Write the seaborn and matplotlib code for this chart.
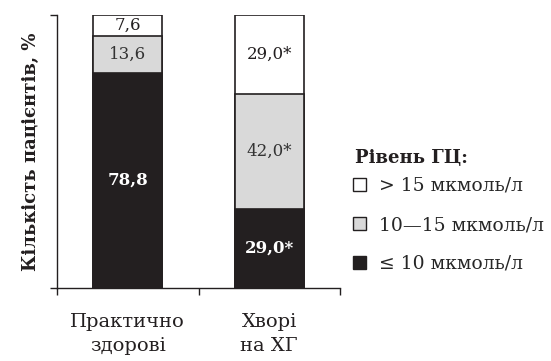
import numpy as np
import pandas as pd
import matplotlib
matplotlib.use("Agg")
import matplotlib.pyplot as plt
from matplotlib.patches import Patch
import seaborn as sns

# Data
groups = ["Практично\nздорові", "Хворі\nна ХГ"]
low = [78.8, 29.0]      # <= 10
mid = [13.6, 42.0]      # 10-15
high = [7.6, 29.0]      # > 15
low_lbl = ["78,8", "29,0*"]
mid_lbl = ["13,6", "42,0*"]
high_lbl = ["7,6", "29,0*"]
legend_title = "Рівень ГЦ:"
legend_labels = ["> 15 мкмоль/л", "10—15 мкмоль/л", "≤ 10 мкмоль/л"]

BLACK = "#231f20"
GRAY = "#d9d9d9"
WHITE = "#ffffff"

sns.set_style("white")
plt.rcParams["font.family"] = ["DejaVu Serif"]

df = pd.DataFrame({"group": groups, "low": low, "mid": mid, "high": high})
df["c_mid"] = df["low"] + df["mid"]
df["c_high"] = df["c_mid"] + df["high"]

fig = plt.figure(figsize=(5.51, 3.61), dpi=100)
ax = fig.add_axes([57 / 551, 1 - 288 / 361, (340 - 57) / 551, (288 - 15) / 361])

# stacked via cumulative heights, top layer first
for col, color in [("c_high", WHITE), ("c_mid", GRAY), ("low", BLACK)]:
    sns.barplot(data=df, x="group", y=col, color=color, width=0.49,
                edgecolor=BLACK, linewidth=1.2, saturation=1, ax=ax)

ax.set_xlim(-0.5, 1.5)
ax.set_ylim(0, 100)
ax.set_xticks([-0.5, 0.5, 1.5])
ax.set_xticklabels([])
ax.set_yticks([0, 100])
ax.set_yticklabels([])
ax.tick_params(axis="both", length=5, width=1, color=BLACK, direction="out",
               bottom=True, left=True)
ax.set_xlabel("")
for s in ["top", "right"]:
    ax.spines[s].set_visible(False)
for s in ["left", "bottom"]:
    ax.spines[s].set_color(BLACK)
    ax.spines[s].set_linewidth(1)

# segment labels
for i in range(len(groups)):
    ax.text(i, low[i] / 2, low_lbl[i], ha="center", va="center",
            color="white", fontsize=12, fontweight="bold")
    ax.text(i, low[i] + mid[i] / 2, mid_lbl[i], ha="center", va="center",
            color="#333333", fontsize=12)
    ax.text(i, low[i] + mid[i] + high[i] / 2, high_lbl[i], ha="center",
            va="center", color=BLACK, fontsize=12)

# category labels under axis
for i, g in enumerate(groups):
    ax.text(i, -9, g, ha="center", va="top", fontsize=14, color=BLACK,
            linespacing=1.45)

ax.set_ylabel("Кількість пацієнтів, %", fontsize=13, fontweight="bold",
              color=BLACK, labelpad=4)

# legend: title as separate text, entries below
fig.text(355 / 551, 1 - 158 / 361, legend_title, ha="left", va="center",
         fontsize=13, fontweight="bold", color=BLACK)
handles = [Patch(facecolor=c, edgecolor=BLACK, linewidth=1)
           for c in [WHITE, GRAY, BLACK]]
leg = fig.legend(handles, legend_labels,
                 loc="upper left", bbox_to_anchor=(353 / 551, 1 - 177 / 361),
                 frameon=False, fontsize=13.5,
                 handlelength=0.7, handleheight=0.7, handletextpad=0.7,
                 labelspacing=1.12, borderaxespad=0, borderpad=0)

fig.savefig("out.png", dpi=100)
